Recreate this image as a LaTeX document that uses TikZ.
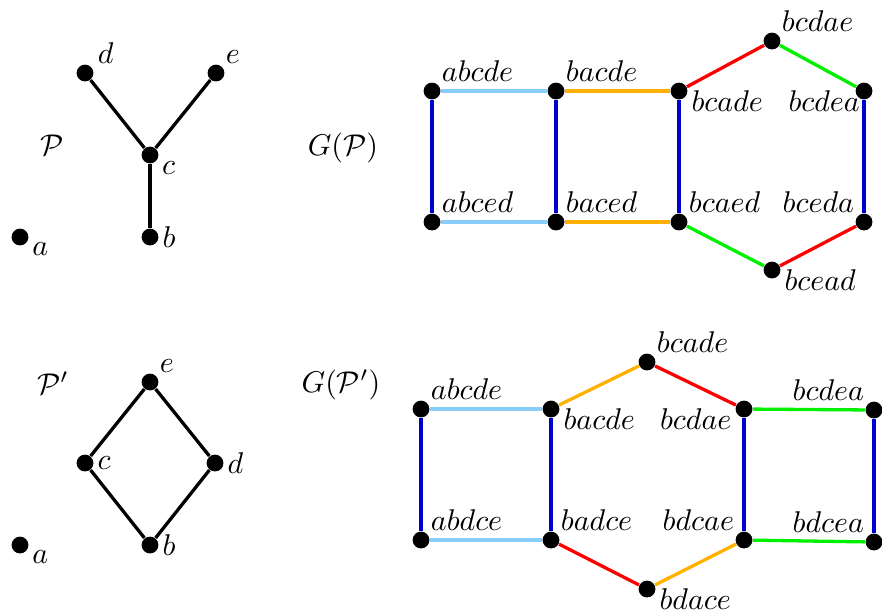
\documentclass[tikz,border=0pt]{standalone}
\usepackage{amsmath}

\definecolor{lblue}{RGB}{135,206,250}
\definecolor{dblue}{RGB}{0,0,205}
\definecolor{gorange}{RGB}{255,176,0}
\definecolor{gred}{RGB}{255,0,0}
\definecolor{ggreen}{RGB}{0,240,0}

\tikzset{
  vtx/.style={circle,fill=black,inner sep=0pt,minimum size=5.6pt},
  pedge/.style={line width=1.1pt},
  gedge/.style={line width=1.1pt},
  every label/.style={inner sep=1pt},
  lowlbl/.style={anchor=north west,yshift=1.3pt},
  lowleftlbl/.style={anchor=north east,yshift=1.3pt},
}

\begin{document}
\begin{tikzpicture}[x=0.3333pt,y=-0.3333pt]
        \useasboundingbox (0,0) rectangle (882,612);

        % Poset P
        \node at (52,145) (lblP) {$\mathcal{P}$};
        \node[vtx,label={[xshift=1pt]above right:$d$}] (pd) at (85,73) {};
        \node[vtx,label=above right:$e$] (pe) at (216,73) {};
        \node[vtx,label=-20:$c$] (pc) at (150,155) {};
        \node[vtx,label=right:$b$] (pb) at (150,237) {};
        \node[vtx,label=-15:$a$] (pa) at (20,237) {};
        \draw[pedge] (pd) -- (pc) -- (pe);
        \draw[pedge] (pc) -- (pb);

        % Graph G(P)
        \node at (343,148) (lblG) {$G(\mathcal{P})$};
        \node[vtx,label=above right:$abcde$] (g1) at (432,91) {};
        \node[vtx,label=above right:$bacde$] (g2) at (556,91) {};
        \node[vtx,label={[lowlbl]east:$bcade$}] (g3) at (679,91) {};
        \node[vtx,label=above right:$bcdae$] (g4) at (772,41) {};
        \node[vtx,label={[lowleftlbl,xshift=2.8pt]west:$bcdea$}] (g5) at (864,91) {};
        \node[vtx,label=above right:$abced$] (g6) at (432,222) {};
        \node[vtx,label=above right:$baced$] (g7) at (556,222) {};
        \node[vtx,label=above right:$bcaed$] (g8) at (679,222) {};
        \node[vtx,label=above left:$bceda$] (g9) at (864,222) {};
        \node[vtx,label={[lowlbl]east:$bcead$}] (g10) at (772,270) {};
        \draw[gedge,lblue] (g1) -- (g2);
        \draw[gedge,lblue] (g6) -- (g7);
        \draw[gedge,gorange] (g2) -- (g3);
        \draw[gedge,gorange] (g7) -- (g8);
        \draw[gedge,dblue] (g1) -- (g6);
        \draw[gedge,dblue] (g2) -- (g7);
        \draw[gedge,dblue] (g3) -- (g8);
        \draw[gedge,dblue] (g5) -- (g9);
        \draw[gedge,gred] (g3) -- (g4);
        \draw[gedge,ggreen] (g4) -- (g5);
        \draw[gedge,ggreen] (g8) -- (g10);
        \draw[gedge,gred] (g10) -- (g9);

        % Poset P'
        \node at (53,383) (lblQ) {$\mathcal{P}'$};
        \node[vtx,label=above right:$e$] (qe) at (150,382) {};
        \node[vtx,label=right:$c$] (qc) at (85,463) {};
        \node[vtx,label=right:$d$] (qd) at (215,463) {};
        \node[vtx,label=right:$b$] (qb) at (150,545) {};
        \node[vtx,label=-15:$a$] (qa) at (20,545) {};
        \draw[pedge] (qb) -- (qc) -- (qe) -- (qd) -- (qb);

        % Graph G(P')
        \node at (341,385) (lblH) {$G(\mathcal{P}')$};
        \node[vtx,label=above right:$abcde$] (h1) at (421,409) {};
        \node[vtx,label={[lowlbl]east:$bacde$}] (h2) at (551,409) {};
        \node[vtx,label=above right:$bcade$] (h3) at (647,362) {};
        \node[vtx,label={[lowleftlbl]west:$bcdae$}] (h4) at (744,409) {};
        \node[vtx,label=above left:$bcdea$] (h5) at (874,410) {};
        \node[vtx,label=above right:$abdce$] (h6) at (421,540) {};
        \node[vtx,label=above right:$badce$] (h7) at (551,540) {};
        \node[vtx,label={[lowlbl]east:$bdace$}] (h8) at (647,589) {};
        \node[vtx,label=above left:$bdcae$] (h9) at (744,540) {};
        \node[vtx,label=above left:$bdcea$] (h10) at (874,542) {};
        \draw[gedge,lblue] (h1) -- (h2);
        \draw[gedge,lblue] (h6) -- (h7);
        \draw[gedge,dblue] (h1) -- (h6);
        \draw[gedge,dblue] (h2) -- (h7);
        \draw[gedge,dblue] (h4) -- (h9);
        \draw[gedge,dblue] (h5) -- (h10);
        \draw[gedge,gorange] (h2) -- (h3);
        \draw[gedge,gred] (h3) -- (h4);
        \draw[gedge,ggreen] (h4) -- (h5);
        \draw[gedge,gred] (h7) -- (h8);
        \draw[gedge,gorange] (h8) -- (h9);
        \draw[gedge,ggreen] (h9) -- (h10);
\end{tikzpicture}
\end{document}
